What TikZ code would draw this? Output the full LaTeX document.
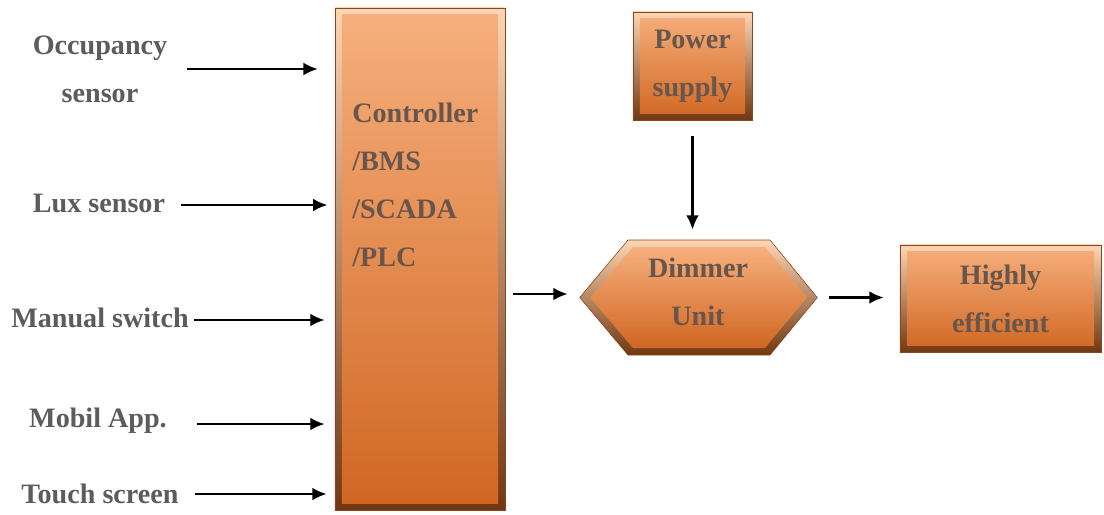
\documentclass[tikz,border=0pt]{standalone}
\usepackage{fontspec}
\setmainfont{Liberation Serif}
\usetikzlibrary{arrows.meta}
\definecolor{otop}{RGB}{247,176,126}
\definecolor{obot}{RGB}{208,102,34}
\definecolor{edgetop}{RGB}{253,214,182}
\definecolor{edgebot}{RGB}{112,56,18}
\definecolor{lblc}{RGB}{92,92,92}
\definecolor{btxt}{RGB}{104,86,76}
\tikzset{
  box/.style={draw=edgebot!70!obot, line width=0.4pt, top color=edgetop, bottom color=edgebot, inner sep=0pt,
    path picture={\shade[top color=otop,bottom color=obot]
      ([shift={(0.17cm,-0.17cm)}]path picture bounding box.north west) rectangle
      ([shift={(-0.17cm,0.17cm)}]path picture bounding box.south east);}},
  lbl/.style={text=lblc, font=\bfseries\fontsize{20}{34}\selectfont, align=center, inner sep=0pt},
  btx/.style={text=btxt, font=\bfseries\fontsize{20}{34}\selectfont, align=center, inner sep=0pt},
  arr/.style={-{Latex[length=0.36cm,width=0.32cm]}, line width=1.7pt, black}
}
\begin{document}
\begin{tikzpicture}[x=0.025cm,y=-0.025cm]
\useasboundingbox (0,0) rectangle (1104,514);
% boxes
\node[box, minimum width=4.25cm, minimum height=12.55cm] (ctrl) at (420,259) {};
\node[btx, anchor=west, align=left] (ctrltext) at (352,185) {Controller\\/BMS\\/SCADA\\/PLC};
\node[box, minimum width=2.975cm, minimum height=2.7cm, btx] (pow) at (692.5,66) {Power\\supply};
\node[box, minimum width=5.025cm, minimum height=2.675cm, btx] (high) at (1000.5,298.5) {Highly\\efficient};
% dimmer hexagon
\node[minimum width=5.925cm, minimum height=2.875cm, inner sep=0pt] (dim) at (698.5,297.5) {};
\shade[top color=edgetop, bottom color=edgebot, draw=edgebot!70!obot, line width=0.4pt]
  (dim.west) -- (628,240) -- (770,240) -- (dim.east) -- (770,355) -- (628,355) -- cycle;
\shade[top color=otop, bottom color=obot]
  (590,297.5) -- (633,247) -- (765,247) -- (807,297.5) -- (765,348) -- (633,348) -- cycle;
\node[btx] (dimtext) at (698,292) {Dimmer\\Unit};
% left labels
\node[lbl] (occ) at (100,69) {Occupancy\\sensor};
\node[lbl] (lux) at (99,203) {Lux sensor};
\node[lbl] (man) at (100,318) {Manual switch};
\node[lbl] (mob) at (98,421) {Mobil App.};
\node[lbl] (touch) at (100,494) {Touch screen};
% arrows
\draw[arr] ([xshift=0.5cm]occ.east) -- ([xshift=-0.42cm]ctrl.west |- occ);
\draw[arr] ([xshift=0.4cm]lux.east |- 0,205) -- ([xshift=-0.18cm]ctrl.west |- 0,205);
\draw[arr] ([xshift=0.12cm]man.east |- 0,320) -- ([xshift=-0.25cm]ctrl.west |- 0,320);
\draw[arr] ([xshift=0.75cm]mob.east |- 0,424) -- ([xshift=-0.25cm]ctrl.west |- 0,424);
\draw[arr] ([xshift=0.4cm]touch.east) -- ([xshift=-0.2cm]ctrl.west |- touch);
\draw[arr] ([xshift=0.18cm]ctrl.east |- 0,294) -- ([xshift=-0.3cm]dim.west |- 0,294);
\draw[arr] ([yshift=-0.38cm]pow.south) -- ([yshift=0.25cm]dim.north -| pow.south);
\draw[arr] ([xshift=0.28cm]dim.east) -- ([xshift=-0.4cm]high.west |- dim.east);
\end{tikzpicture}
\end{document}
